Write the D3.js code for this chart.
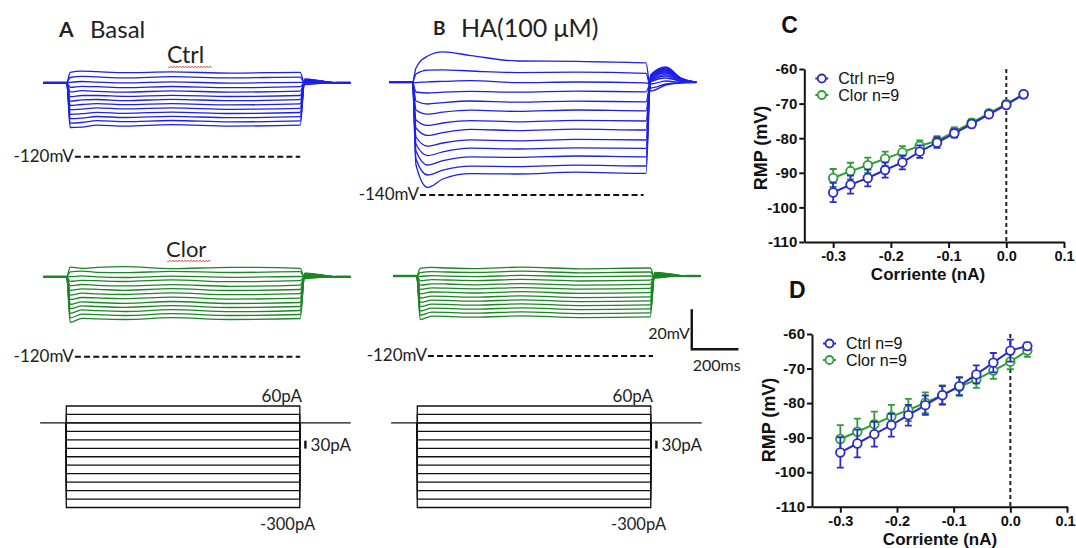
<!DOCTYPE html>
<html>
<head>
  <meta charset="utf-8"><script src="https://d3js.org/d3.v7.min.js"></script>
  <style>
    body { margin: 0; background: white; }
    .lbl { font-family: Lato, "Open Sans", sans-serif; fill: #222; }
    .gp  { font-family: "Liberation Sans", Arial, sans-serif; fill: #111; }
  </style>
</head>

<body onload="execute()">
  <svg id="fig" width="1076" height="548" style="background: white" />
</body>
<script>
  // ---- voltage traces: knots (ms) and membrane potential (mV) ----
  const stepT = [15, 65, 130, 250, 450, 700, 1000]
  const postT = [1020, 1085, 1150]

  const basalCtrlBase = -83
  const basalCtrlStep = [
    [-77.8, -77.2, -77.5, -78.0, -77.6, -78.2, -77.8],
    [-80.4, -79.8, -80.1, -80.6, -80.0, -80.6, -80.2],
    [-82.8, -82.4, -82.7, -83.1, -82.6, -83.2, -82.8],
    [-85.3, -84.8, -85.0, -85.5, -84.9, -85.5, -85.0],
    [-87.6, -87.0, -87.3, -87.7, -87.1, -87.7, -87.2],
    [-90.0, -89.4, -89.4, -89.8, -89.3, -89.9, -89.4],
    [-92.2, -91.6, -91.4, -92.0, -91.3, -92.0, -91.5],
    [-94.4, -93.9, -93.5, -94.0, -93.5, -94.1, -93.6],
    [-96.6, -96.2, -95.6, -96.1, -95.6, -96.3, -95.8],
    [-98.8, -98.5, -97.8, -98.3, -97.7, -98.4, -97.9],
    [-101.0, -100.7, -99.9, -100.4, -99.8, -100.5, -100.0],
    [-103.2, -102.9, -102.0, -102.5, -101.9, -102.6, -102.1],
    [-105.4, -105.2, -104.2, -104.7, -104.0, -104.7, -104.2]]
  const basalCtrlPost = [
    [-84.0, -83.3, -83], [-83.7, -83.2, -83], [-83.2, -83.0, -83], [-82.9, -82.9, -83],
    [-82.7, -82.8, -83], [-82.5, -82.7, -83], [-82.3, -82.6, -83], [-82.1, -82.5, -83],
    [-81.9, -82.4, -83], [-81.7, -82.3, -83], [-81.5, -82.2, -83], [-81.3, -82.1, -83],
    [-81.1, -82.0, -83]]

  const haCtrlBase = -83.6
  const haCtrlStep = [
    [-76.5, -70.5, -68.4, -70.3, -73.0, -73.2, -73.9],
    [-79.5, -77.6, -77.4, -78.0, -78.8, -78.6, -79.2],
    [-83.8, -83.4, -83.2, -82.8, -83.8, -83.5, -83.9],
    [-88.5, -89.0, -88.6, -88.2, -88.6, -88.1, -88.4],
    [-93.0, -94.5, -93.8, -93.0, -93.6, -93.1, -93.4],
    [-97.5, -99.6, -98.6, -97.6, -98.2, -97.5, -97.9],
    [-102.5, -105.2, -104.0, -102.8, -103.4, -102.7, -103.0],
    [-106.5, -110.2, -108.8, -107.2, -107.8, -107.1, -107.5],
    [-111.0, -115.6, -114.0, -112.4, -112.9, -112.2, -112.5],
    [-114.5, -120.3, -118.4, -116.6, -117.0, -116.4, -116.7],
    [-118.0, -125.0, -122.8, -120.9, -121.2, -120.5, -120.9],
    [-122.0, -130.0, -127.6, -125.6, -125.8, -125.1, -125.5],
    [-125.0, -136.2, -132.0, -129.3, -129.5, -128.6, -129.2]]
  const haCtrlPost = [
    [-88.0, -85.0, -84.0], [-86.5, -84.5, -83.8], [-84.5, -83.0, -83.6], [-83.5, -81.5, -83.2],
    [-83.0, -80.5, -83.0], [-82.5, -79.8, -82.8], [-82.0, -79.0, -82.6], [-81.5, -78.5, -82.4],
    [-81.0, -78.0, -82.2], [-80.8, -77.5, -82.0], [-80.5, -77.0, -81.8], [-80.2, -76.5, -81.6],
    [-80.0, -76.0, -81.5]]

  const basalClorBase = -80
  const basalClorStep = [
    [-75.2, -75.8, -75.3, -75.0, -76.0, -75.3, -75.8],
    [-77.6, -77.2, -77.8, -78.0, -77.3, -77.9, -77.5],
    [-80.0, -79.6, -80.1, -80.4, -79.7, -80.3, -79.9],
    [-82.3, -81.8, -82.0, -82.4, -81.6, -82.5, -82.0],
    [-84.6, -83.9, -84.3, -84.6, -84.0, -84.8, -84.2],
    [-86.9, -86.1, -86.3, -86.8, -86.0, -86.9, -86.4],
    [-89.2, -88.2, -88.6, -88.9, -88.1, -89.0, -88.5],
    [-91.5, -90.4, -90.6, -91.0, -90.2, -91.2, -90.7],
    [-93.8, -92.6, -92.9, -93.3, -92.4, -93.4, -92.9],
    [-96.0, -94.6, -94.9, -95.3, -94.5, -95.4, -94.9],
    [-98.3, -96.6, -97.0, -97.4, -96.5, -97.5, -96.9],
    [-100.6, -98.7, -99.0, -99.4, -98.5, -99.4, -98.9],
    [-102.8, -100.8, -101.1, -101.4, -100.5, -101.4, -100.9]]
  const clorPost = [
    [-81.0, -80.3, -80], [-80.7, -80.2, -80], [-80.3, -80.0, -80], [-80.0, -79.9, -80],
    [-79.8, -79.8, -80], [-79.6, -79.7, -80], [-79.4, -79.6, -80], [-79.2, -79.5, -80],
    [-79.0, -79.4, -80], [-78.8, -79.3, -80], [-78.6, -79.2, -80], [-78.4, -79.1, -80],
    [-78.2, -79.0, -80]]

  const haClorBase = -80
  const haClorStep = [
    [-76.2, -75.7, -76.0, -76.3, -75.6, -76.4, -76.0],
    [-78.3, -77.8, -78.0, -78.2, -77.6, -78.4, -78.0],
    [-80.2, -79.8, -80.1, -80.3, -79.7, -80.3, -80.0],
    [-82.4, -81.8, -82.0, -82.3, -81.7, -82.5, -82.1],
    [-84.6, -83.9, -84.0, -84.4, -83.8, -84.6, -84.2],
    [-86.7, -85.9, -86.1, -86.4, -85.8, -86.6, -86.2],
    [-88.9, -88.0, -88.1, -88.5, -87.8, -88.7, -88.3],
    [-91.0, -90.1, -90.2, -90.6, -89.9, -90.8, -90.4],
    [-93.2, -92.1, -92.2, -92.6, -91.9, -92.8, -92.4],
    [-95.3, -94.1, -94.2, -94.6, -93.9, -94.8, -94.4],
    [-97.5, -96.1, -96.2, -96.6, -95.9, -96.8, -96.4],
    [-99.6, -98.1, -98.2, -98.6, -97.9, -98.8, -98.4],
    [-101.8, -100.1, -100.2, -100.6, -99.9, -100.8, -100.4]]

  // ---- current protocol (pA) ----
  const protocolLevels = [60, 30, 0, -30, -60, -90, -120, -150, -180, -210, -240, -270, -300]

  // ---- I-V curves ----
  const currents = [-0.3, -0.27, -0.24, -0.21, -0.18, -0.15, -0.12, -0.09, -0.06, -0.03, 0.0, 0.03]
  const ivBasalCtrl    = [-95.7, -93.4, -91.5, -89.2, -87.0, -83.9, -81.3, -78.6, -75.9, -73.1, -70.4, -67.3]
  const ivBasalCtrlErr = [2.8, 2.6, 2.4, 2.2, 2.0, 1.8, 1.5, 1.2, 1.0, 0.8, 0.8, 1.0]
  const ivBasalClor    = [-91.5, -89.5, -87.8, -85.9, -84.1, -82.2, -80.8, -78.1, -75.5, -72.8, -70.1, -67.3]
  const ivBasalClorErr = [2.6, 2.4, 2.2, 2.0, 1.8, 1.6, 1.4, 1.2, 1.0, 0.9, 0.9, 1.0]
  const ivHaCtrl    = [-94.3, -91.7, -89.0, -86.4, -83.5, -80.6, -77.7, -75.1, -71.7, -68.3, -64.8, -63.5]
  const ivHaCtrlErr = [4.4, 4.0, 3.6, 3.3, 3.0, 2.8, 2.6, 2.6, 2.6, 2.8, 3.2, 1.0]
  const ivHaClor    = [-90.4, -88.3, -86.1, -83.9, -82.0, -79.9, -77.7, -75.3, -73.2, -70.6, -68.0, -64.8]
  const ivHaClorErr = [4.0, 3.8, 3.6, 3.4, 3.2, 3.0, 2.8, 2.6, 2.4, 2.4, 2.2, 1.8]
  const xTicks = [-0.3, -0.2, -0.1, 0.0, 0.1]
  const yTicks = [-60, -70, -80, -90, -100, -110]

  const blueTrace = "#1c20e8", greenTrace = "#1c8526"
  const blueIV = "#2b2bcc", greenIV = "#2f9e35"

  function execute() {
    const svg = d3.select("#fig")
    const pxPerMs = 0.2335, pxPerMv = 2

    function tScale(x0) {
      return d3.scaleLinear().domain([0, 1000]).range([x0, x0 + 1000 * pxPerMs])
    }
    function vScale(ref, yRef) {
      return d3.scaleLinear().domain([ref, ref + 20]).range([yRef, yRef - 20 * pxPerMv])
    }

    function squiggle(x1, x2, y) {
      let d = `M${x1},${y}`
      for (let x = x1 + 1.5, k = 0; x <= x2; x += 1.5, k++) d += `L${x},${y + (k % 2 ? -1 : 1)}`
      svg.append("path").attr("d", d).attr("fill", "none").attr("stroke", "#e0443c").attr("stroke-width", 0.8)
    }

    function traces(p, base, step, post) {
      const x = tScale(p.x0), y = vScale(p.ref, p.yRef)
      const line = d3.line().x(d => x(d[0])).y(d => y(d[1])).curve(d3.curveMonotoneX)
      const g = svg.append("g")
      step.forEach((vals, i) => {
        const pts = [[-100, base], [0, base]]
          .concat(stepT.map((t, j) => [t, vals[j]]))
          .concat(postT.map((t, j) => [t, post[i][j]]))
          .concat([[1215, base]])
        g.append("path").datum(pts)
          .attr("fill", "none").attr("stroke", p.color)
          .attr("stroke-width", 1.3).attr("stroke-linejoin", "round")
          .attr("d", line)
      })
      // thick resting baseline
      ;[[-100, 0], [1150, 1215]].forEach(seg => {
        g.append("line").attr("x1", x(seg[0])).attr("x2", x(seg[1]))
          .attr("y1", y(base)).attr("y2", y(base))
          .attr("stroke", p.color).attr("stroke-width", 2.4)
      })
      // reference potential
      g.append("line").attr("x1", x(p.dash[0])).attr("x2", x(p.dash[1]))
        .attr("y1", y(p.ref)).attr("y2", y(p.ref))
        .attr("stroke", "#111").attr("stroke-width", 2).attr("stroke-dasharray", "6,3.2")
      g.append("text").attr("class", "lbl")
        .attr("x", x(p.dash[0]) - 1).attr("y", y(p.ref) + 5)
        .attr("text-anchor", "end").attr("font-size", 17)
        .text(`${p.ref}mV`)
      return { x, y }
    }

    traces({ x0: 66.7, ref: -120, yRef: 156.7, dash: [35, 1000], color: blueTrace },
      basalCtrlBase, basalCtrlStep, basalCtrlPost)
    traces({ x0: 412.5, ref: -140, yRef: 195, dash: [32, 990], color: blueTrace },
      haCtrlBase, haCtrlStep, haCtrlPost)
    traces({ x0: 66.7, ref: -120, yRef: 356.7, dash: [35, 1000], color: greenTrace },
      basalClorBase, basalClorStep, clorPost)
    const bClor = traces({ x0: 416.7, ref: -120, yRef: 356, dash: [48, 1012], color: greenTrace },
      haClorBase, haClorStep, clorPost)

    // scale bar 20 mV / 200 ms
    const sbT = 1178, sbV = -116.65
    svg.append("path")
      .attr("d", `M${bClor.x(sbT)},${bClor.y(sbV + 20)}V${bClor.y(sbV)}H${bClor.x(sbT + 200)}`)
      .attr("fill", "none").attr("stroke", "#111").attr("stroke-width", 2.4)
    svg.append("text").attr("class", "lbl").attr("font-size", 16).attr("text-anchor", "end")
      .attr("x", bClor.x(sbT) - 2).attr("y", bClor.y(sbV) - 10).text("20mV")
    svg.append("text").attr("class", "lbl").attr("font-size", 16)
      .attr("x", bClor.x(sbT) + 1).attr("y", bClor.y(sbV) + 22).text("200ms")

    // panel titles
    const title = (x, y, size, weight, txt) => svg.append("text").attr("class", "lbl")
      .attr("x", x).attr("y", y).attr("font-size", size).attr("font-weight", weight).text(txt)
    title(59, 37, 21, "bold", "A")
    title(90, 38, 24, "normal", "Basal")
    title(167, 63, 23, "normal", "Ctrl"); squiggle(168, 212, 67)
    title(433, 35, 19, "bold", "B")
    title(461, 37, 25, "normal", "HA(100 μM)")
    title(166, 257, 22, "normal", "Clor"); squiggle(167, 211, 261)

    // current step protocols
    ;[66.3, 417.3].forEach(x0 => {
      const x = tScale(x0)
      const y = d3.scaleLinear().domain([60, -300]).range([406, 507.5])
      const g = svg.append("g").attr("fill", "none").attr("stroke", "#111").attr("stroke-width", 1.3)
      g.append("line").attr("x1", x(-112)).attr("x2", x(1218)).attr("y1", y(0)).attr("y2", y(0))
      protocolLevels.forEach(I => {
        g.append("path").attr("d", `M${x(0)},${y(0)}V${y(I)}H${x(1000)}V${y(0)}`)
      })
      g.append("line").attr("x1", x(1024)).attr("x2", x(1024)).attr("y1", y(-63)).attr("y2", y(-91))
        .attr("stroke-width", 2.4)
      svg.append("text").attr("class", "lbl").attr("font-size", 17).attr("text-anchor", "end")
        .attr("x", x(1010)).attr("y", y(60) - 4).text("60pA")
      svg.append("text").attr("class", "lbl").attr("font-size", 17)
        .attr("x", x(1046)).attr("y", y(-100)).text("30pA")
      svg.append("text").attr("class", "lbl").attr("font-size", 16.5)
        .attr("x", x(830)).attr("y", y(-300) + 22.5).text("-300pA")
    })

    // I-V plots
    function ivPlot(o) {
      const x = d3.scaleLinear().domain([-0.35, 0.1]).range([o.left, o.right])
      const y = d3.scaleLinear().domain([-110, -60]).range([o.bottom, o.top])
      const g = svg.append("g")

      g.append("g").attr("transform", `translate(0,${o.bottom})`)
        .call(d3.axisBottom(x).tickValues(xTicks).tickFormat(d => d.toFixed(1)).tickSize(6).tickSizeOuter(0).tickPadding(3))
        .call(a => a.selectAll("path,line").attr("stroke", "#111").attr("stroke-width", 2))
        .call(a => a.selectAll("text").attr("class", "gp").attr("font-size", 14.5).attr("font-weight", "bold"))
        .call(a => a.select(".tick:last-of-type text").attr("dx", o.lastDx))
      g.append("g").attr("transform", `translate(${o.left},0)`)
        .call(d3.axisLeft(y).tickValues(yTicks).tickFormat(d => String(d)).tickSize(5).tickSizeOuter(0).tickPadding(2))
        .call(a => a.selectAll("path,line").attr("stroke", "#111").attr("stroke-width", 2))
        .call(a => a.selectAll("text").attr("class", "gp").attr("font-size", 15).attr("font-weight", "bold"))

      g.append("line").attr("x1", x(0)).attr("x2", x(0)).attr("y1", y(-60)).attr("y2", y(-110))
        .attr("stroke", "#222").attr("stroke-width", 2).attr("stroke-dasharray", "4,3")

      g.append("text").attr("class", "gp").attr("font-size", 17).attr("font-weight", "bold")
        .attr("text-anchor", "middle").attr("x", o.xTitle).attr("y", o.bottom + 38).text("Corriente (nA)")
      g.append("text").attr("class", "gp").attr("font-size", 18).attr("font-weight", "bold")
        .attr("text-anchor", "middle")
        .attr("transform", `translate(${o.left - 37},${o.yTitle}) rotate(-90)`).text("RMP (mV)")

      const series = [
        { v: o.clor, e: o.clorErr, c: greenIV },
        { v: o.ctrl, e: o.ctrlErr, c: blueIV }]
      series.forEach(s => {
        const pts = currents.map((c, i) => ({ c, v: s.v[i], e: s.e[i] }))
        g.append("path").datum(pts).attr("fill", "none").attr("stroke", s.c).attr("stroke-width", 2)
          .attr("d", d3.line().x(d => x(d.c)).y(d => y(d.v)))
        const eb = g.append("g").attr("stroke", s.c).attr("stroke-width", 1.8)
        pts.forEach(d => {
          eb.append("path").attr("fill", "none")
            .attr("d", `M${x(d.c)},${y(d.v - d.e)}V${y(d.v + d.e)}M${x(d.c) - 3.5},${y(d.v - d.e)}h7M${x(d.c) - 3.5},${y(d.v + d.e)}h7`)
        })
        g.selectAll(null).data(pts).join("circle")
          .attr("cx", d => x(d.c)).attr("cy", d => y(d.v)).attr("r", 4.3)
          .attr("fill", "white").attr("stroke", s.c).attr("stroke-width", 1.8)
      })

      // legend
      ;[["Ctrl n=9", blueIV], ["Clor n=9", greenIV]].forEach((l, i) => {
        const ly = o.top + 9.5 + i * 16.5
        g.append("line").attr("x1", o.left + 11).attr("x2", o.left + 24).attr("y1", ly).attr("y2", ly)
          .attr("stroke", l[1]).attr("stroke-width", 2)
        g.append("circle").attr("cx", o.left + 17.5).attr("cy", ly).attr("r", 4)
          .attr("fill", "white").attr("stroke", l[1]).attr("stroke-width", 1.8)
        g.append("text").attr("class", "gp").attr("font-size", 16)
          .attr("x", o.left + 34).attr("y", ly + 5.5).text(l[0])
      })
      g.append("text").attr("class", "gp").attr("font-size", 23).attr("font-weight", "bold")
        .attr("x", o.left - 23).attr("y", o.top - 36).text(o.name)
    }

    ivPlot({ name: "C", left: 804.3, right: 1064, top: 69, bottom: 242, xTitle: 928, yTitle: 148, lastDx: 0,
      ctrl: ivBasalCtrl, ctrlErr: ivBasalCtrlErr, clor: ivBasalClor, clorErr: ivBasalClorErr })
    ivPlot({ name: "D", left: 812, right: 1067, top: 334, bottom: 506.7, xTitle: 940, yTitle: 420, lastDx: -2,
      ctrl: ivHaCtrl, ctrlErr: ivHaCtrlErr, clor: ivHaClor, clorErr: ivHaClorErr })
  }
</script>
</html>
